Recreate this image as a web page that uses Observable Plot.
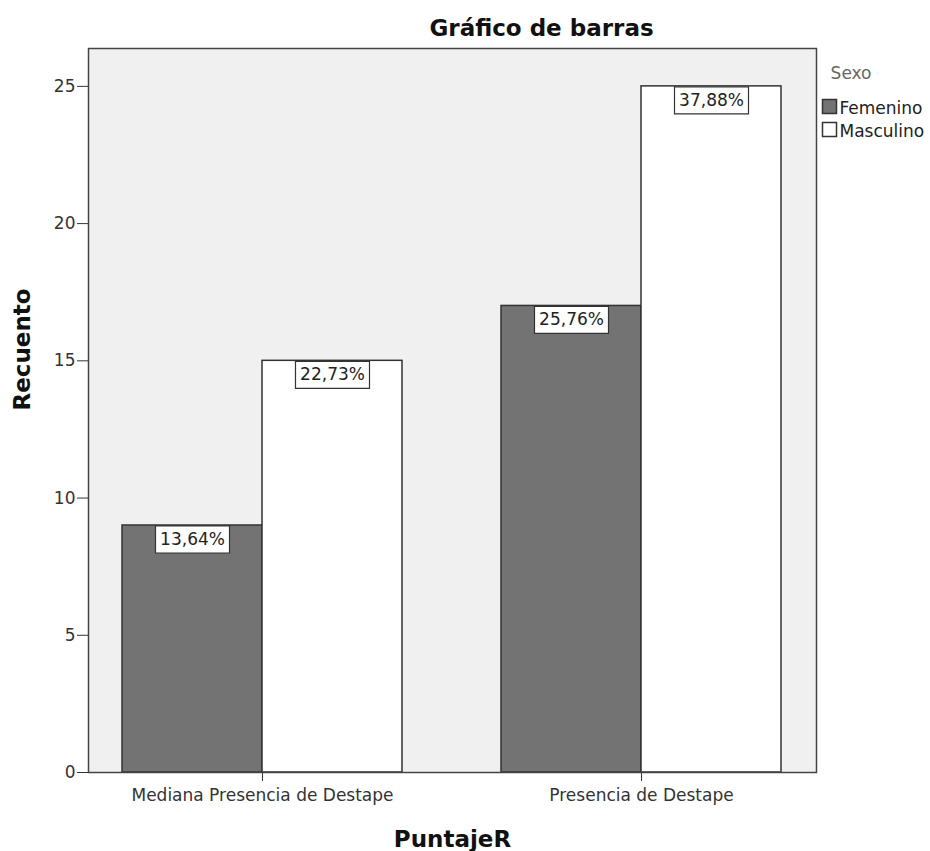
<!DOCTYPE html>
<html>
<head>
<meta charset="utf-8">
<script src="https://cdn.jsdelivr.net/npm/d3@7"></script>
<script src="https://cdn.jsdelivr.net/npm/@observablehq/plot@0.6"></script>
<style>
  body { margin: 0; background: #fff; }
  #chart svg { display: block; }
</style>
</head>
<body>
<div id="chart"></div>
<script>
const categories = ["Mediana Presencia de Destape", "Presencia de Destape"];
const sexes = ["Femenino", "Masculino"];
const femenino = [9, 17];
const masculino = [15, 25];
const femeninoPct = ["13,64%", "25,76%"];
const masculinoPct = ["22,73%", "37,88%"];
const yTicks = [0, 5, 10, 15, 20, 25];
const yMax = 26.38;

const rowsF = categories.map((c, i) => ({category: c, sex: sexes[0], value: femenino[i], pct: femeninoPct[i]}));
const rowsM = categories.map((c, i) => ({category: c, sex: sexes[1], value: masculino[i], pct: masculinoPct[i]}));

function boxSymbol(w, h) {
  return {
    draw(ctx) {
      ctx.moveTo(-w / 2, -h / 2);
      ctx.lineTo(w / 2, -h / 2);
      ctx.lineTo(w / 2, h / 2);
      ctx.lineTo(-w / 2, h / 2);
      ctx.closePath();
    }
  };
}

const femFill = "#737373";
const edge = "#333";

const chart = Plot.plot({
  width: 930,
  height: 851,
  marginTop: 48,
  marginBottom: 79,
  marginLeft: 88,
  marginRight: 114,
  style: {fontFamily: "DejaVu Sans", fontSize: "17px", color: "#333", background: "#fff"},
  x: {domain: categories, paddingInner: 0.2612, paddingOuter: 0.091, tickSize: 9, tickPadding: 7, label: null},
  y: {domain: [0, yMax], ticks: yTicks, tickSize: 11, tickPadding: 2, label: null},
  marks: [
    Plot.frame({fill: "#f0f0f0", stroke: null}),
    Plot.barY(rowsF, {x: "category", y: "value", fill: femFill, stroke: edge, strokeWidth: 1.5, insetRight: 140}),
    Plot.barY(rowsM, {x: "category", y: "value", fill: "#fff", stroke: edge, strokeWidth: 1.5, insetLeft: 140}),
    Plot.frame({stroke: "#444", strokeWidth: 1.5}),
    Plot.dot(rowsF, {x: "category", y: "value", dx: -70, dy: 14, r: 10, symbol: boxSymbol(74, 27), fill: "#fff", stroke: edge, strokeWidth: 1.2}),
    Plot.text(rowsF, {x: "category", y: "value", text: "pct", dx: -70, dy: 14, fontSize: 17, fill: "#222"}),
    Plot.dot(rowsM, {x: "category", y: "value", dx: 70, dy: 14, r: 10, symbol: boxSymbol(74, 27), fill: "#fff", stroke: edge, strokeWidth: 1.2}),
    Plot.text(rowsM, {x: "category", y: "value", text: "pct", dx: 70, dy: 14, fontSize: 17, fill: "#222"}),
    // titles
    Plot.text(["Gráfico de barras"], {frameAnchor: "top", dx: 89, dy: -13, lineAnchor: "bottom", fontSize: 23, fontWeight: "bold", fill: "#111"}),
    Plot.text(["Recuento"], {frameAnchor: "left", dx: -66, rotate: -90, fontSize: 23, fontWeight: "bold", fill: "#111"}),
    Plot.text(["PuntajeR"], {frameAnchor: "bottom", dy: 74, lineAnchor: "bottom", fontSize: 23, fontWeight: "bold", fill: "#111"}),
    // legend
    Plot.text(["Sexo"], {frameAnchor: "top-right", dx: 55, dy: 30, lineAnchor: "bottom", fontSize: 17, fill: "#666"}),
    Plot.dot([sexes[0]], {frameAnchor: "top-right", dx: 13, dy: 58, r: 5, symbol: boxSymbol(14, 14), fill: femFill, stroke: edge, strokeWidth: 1.5}),
    Plot.dot([sexes[1]], {frameAnchor: "top-right", dx: 13, dy: 81, r: 5, symbol: boxSymbol(14, 14), fill: "#fff", stroke: edge, strokeWidth: 1.5}),
    Plot.text([sexes[0]], {frameAnchor: "top-right", dx: 23, dy: 65, lineAnchor: "bottom", textAnchor: "start", fontSize: 17, fill: "#222"}),
    Plot.text([sexes[1]], {frameAnchor: "top-right", dx: 23, dy: 88, lineAnchor: "bottom", textAnchor: "start", fontSize: 17, fill: "#222"})
  ]
});
document.getElementById("chart").append(chart);
</script>
</body>
</html>
